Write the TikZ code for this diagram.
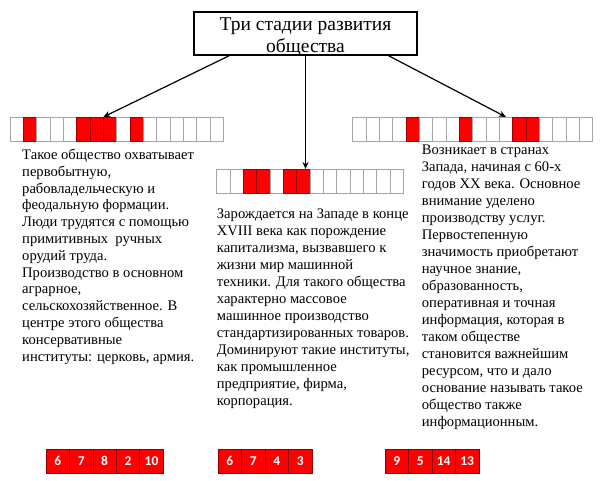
\documentclass[tikz,border=0pt]{standalone}
\usepackage{fontspec}
\setmainfont{Liberation Serif}
\newfontfamily\tnr{Liberation Serif}
\newfontfamily\numfont{Carlito}
\usetikzlibrary{arrows.meta,calc}
\tikzset{
  cellbox/.style={draw=gray!70, fill=white, line width=0.8pt, minimum width=13.33pt, minimum height=24pt, inner sep=0pt, outer sep=0pt, anchor=north west},
  redcell/.style={cellbox, fill=red, draw=red!60!black},
  numbox/.style={draw=red!55!black, fill=red, line width=0.8pt, text=white, font=\numfont\bfseries\fontsize{13.5}{13.5}\selectfont, minimum width=23.45pt, minimum height=24pt, inner sep=0pt, outer sep=0pt, anchor=north west},
  txt/.style={anchor=north west, align=left, inner sep=0pt, font=\tnr\fontsize{14.6}{17}\selectfont},
  titlebox/.style={draw, line width=1.4pt, minimum width=223pt, minimum height=43pt, inner sep=0pt},
  titletxt/.style={anchor=north, align=center, inner sep=0pt, font=\tnr\fontsize{19.5}{22}\selectfont},
  arr/.style={line width=1.2pt, -{Stealth[length=7pt,width=6pt]}}
}
\newcommand{\mystrip}[5]{%
  \foreach \i in {1,...,#3}{%
    \gdef\cst{cellbox}%
    \foreach \r in {#4}{\ifnum\i=\r\gdef\cst{redcell}\fi}%
    \node[\cst] (#5\i) at ({#1+(\i-1)*13.33},#2) {};
  }%
}
\begin{document}
\begin{tikzpicture}[x=1pt,y=-1pt]
\useasboundingbox (0,0) rectangle (609,480);

\node[titlebox] (title) at (305.5,33.5) {};
\node[titletxt] (titletext) at (305.5,18) {Три стадии развития\\общества};

\mystrip{10}{117}{16}{2,6,7,8,10}{L}
\mystrip{216.7}{169}{14}{3,4,6,7}{M}
\mystrip{352.7}{117}{18}{5,9,13,14}{R}

\draw[arr] ($(title.south west)!0.16!(title.south east)$) -- (L8.north west);
\draw[arr] (title.south) -- (title.south |- M1.north);
\draw[arr] ($(title.south west)!0.87!(title.south east)$) -- (R12.north);

\node[txt, font=\tnr\fontsize{14.6}{16.8}\selectfont] (TL) at (22,148.8) {Такое общество охватывает\\первобытную,\\рабовладельческую и\\феодальную формации.\\Люди трудятся с помощью\\примитивных\ \ ручных\\орудий труда.\\Производство в основном\\аграрное,\\сельскохозяйственное. В\\центре этого общества\\консервативные\\институты: церковь, армия.};

\node[txt] (TM) at (216.7,208.3) {Зарождается на Западе в конце\\XVIII века как порождение\\капитализма, вызвавшего к\\жизни мир машинной\\техники. Для такого общества\\характерно массовое\\машинное производство\\стандартизированных товаров.\\Доминируют такие институты,\\как промышленное\\предприятие, фирма,\\корпорация.};

\node[txt] (TR) at (421.7,144.3) {Возникает в странах\\Запада, начиная с 60-х\\годов XX века. Основное\\внимание уделено\\производству услуг.\\Первостепенную\\значимость приобретают\\научное знание,\\образованность,\\оперативная и точная\\информация, которая в\\таком обществе\\становится важнейшим\\ресурсом, что и дало\\основание называть такое\\общество также\\информационным.};

\foreach \n [count=\k] in {6,7,8,2,10} \node[numbox] (NL\k) at ({46+(\k-1)*23.45},449) {\n};
\foreach \n [count=\k] in {6,7,4,3} \node[numbox] (NM\k) at ({218+(\k-1)*23.5},449) {\n};
\foreach \n [count=\k] in {9,5,14,13} \node[numbox] (NR\k) at ({385+(\k-1)*23.5},449) {\n};
\end{tikzpicture}
\end{document}
